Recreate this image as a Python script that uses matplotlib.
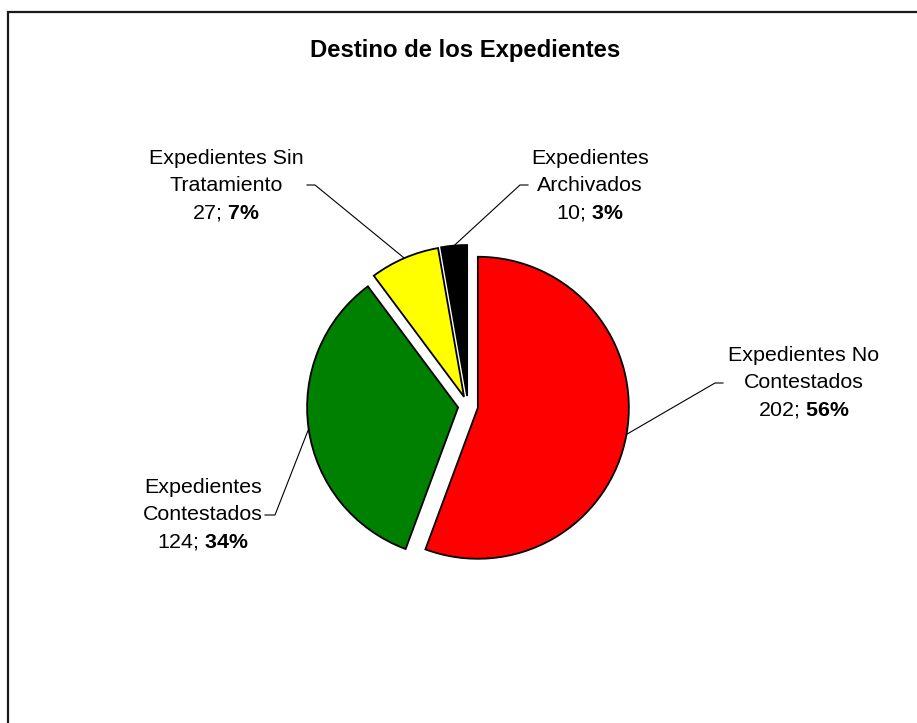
import numpy as np
import matplotlib.pyplot as plt
from matplotlib.patches import Rectangle

# Datos
categorias = ["Expedientes No\nContestados", "Expedientes\nContestados",
              "Expedientes Sin\nTratamiento", "Expedientes\nArchivados"]
valores = [202, 124, 27, 10]
colores = ["#FF0000", "#008000", "#FFFF00", "#000000"]
titulo = "Destino de los Expedientes"

plt.rcParams["font.family"] = "Liberation Sans"
plt.rcParams["mathtext.fontset"] = "custom"
plt.rcParams["mathtext.rm"] = "Liberation Sans"
plt.rcParams["mathtext.bf"] = "Liberation Sans:bold"

W, H = 917, 723
fig = plt.figure(figsize=(W / 100, H / 100), dpi=100)
ax = fig.add_axes([0, 0, 1, 1])

R = 151.0              # radio del pie en px
cx, cy = 468.0, 406.0  # centro en px (desde arriba)
explode_px = 10

wedges, _ = ax.pie(valores, colors=colores, startangle=90, counterclock=False,
                   explode=[explode_px / R] * len(valores),
                   wedgeprops=dict(edgecolor="black", linewidth=1.3))
ax.set_xlim(-cx / R, (W - cx) / R)
ax.set_ylim(-(H - cy) / R, cy / R)
ax.set_aspect("auto")
ax.axis("off")


def px2data(x, y):
    return (x - cx) / R, (cy - y) / R


# posiciones de etiquetas (px) y arranque de las guias
label_pos = [(804, 383), (203, 515), (226, 186), (590, 186)]
leader_start = [(723, 383), (265, 515), (307, 185), (528, 185)]
knee_dx = [-8, 10, 8, -8]

total = sum(valores)
for w, cat, v, (lx, ly), (sx, sy), kd in zip(wedges, categorias, valores,
                                              label_pos, leader_start, knee_dx):
    pct = round(100 * v / total)
    txt = f"{cat}\n{v}; $\\mathbf{{{pct}\\%}}$"
    tx, ty = px2data(lx, ly)
    ax.text(tx, ty, txt, ha="center", va="center", fontsize=15.4, linespacing=1.55)
    mid = np.deg2rad((w.theta1 + w.theta2) / 2)
    ex = w.center[0] + w.r * np.cos(mid)
    ey = w.center[1] + w.r * np.sin(mid)
    x0, y0 = px2data(sx, sy)
    x1, y1 = px2data(sx + kd, sy)
    ax.plot([x0, x1, ex], [y0, y1, ey], color="black", lw=0.8)

fig.text(465 / W, 1 - 51 / H, titulo, ha="center", va="center",
         fontsize=17.2, fontweight="bold")

# borde del area del grafico
fig.patches.append(Rectangle((8 / W, -0.05), 1.0, 1 - 12 / H + 0.05,
                             transform=fig.transFigure, fill=False,
                             edgecolor="#1a1a1a", lw=1.6))

plt.savefig("out.png", dpi=100)
